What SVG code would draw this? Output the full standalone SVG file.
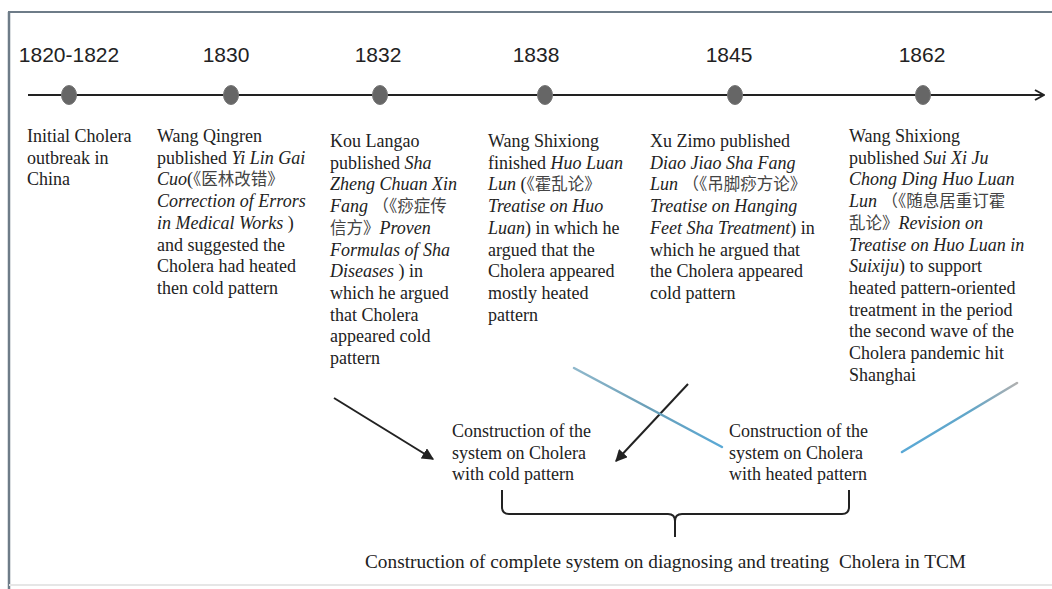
<svg xmlns="http://www.w3.org/2000/svg" width="1052" height="589" viewBox="0 0 1052 589">
<defs>
<style>
.t{font-family:"Liberation Serif","Noto Sans CJK SC",serif;font-size:18px;fill:#222}
.i{font-style:italic}
.c{font-family:"Noto Sans CJK SC",sans-serif;font-size:16.5px;fill:#444}
.yr{font-family:"Liberation Sans",sans-serif;font-size:21px;fill:#222;text-anchor:middle}
.dot{fill:#666;stroke:#777;stroke-width:1}
.ln{stroke:#222;stroke-width:2;fill:none}
.bl{stroke-width:2.5;fill:none;stroke-linecap:round}
</style>
<marker id="open" viewBox="0 0 12 12" refX="11" refY="6" markerWidth="12" markerHeight="12" markerUnits="userSpaceOnUse" orient="auto">
<path d="M2,1 L11,6 L2,11" fill="none" stroke="#222" stroke-width="2"/>
</marker>
<marker id="tri" viewBox="0 0 10 10" refX="9" refY="5" markerWidth="12" markerHeight="12" markerUnits="userSpaceOnUse" orient="auto">
<path d="M0,0 L10,5 L0,10 Z" fill="#222"/>
</marker>
<linearGradient id="g1" gradientUnits="userSpaceOnUse" x1="574" y1="368" x2="722" y2="447">
<stop offset="0" stop-color="#8fb8cc"/><stop offset="0.5" stop-color="#6a9fb8"/><stop offset="1" stop-color="#5aa9d6"/>
</linearGradient>
<linearGradient id="g2" gradientUnits="userSpaceOnUse" x1="902" y1="452" x2="1017" y2="383">
<stop offset="0" stop-color="#5aa9d6"/><stop offset="0.6" stop-color="#62a6c8"/><stop offset="1" stop-color="#b0b0b0"/>
</linearGradient>
</defs>
<rect x="0" y="0" width="1052" height="589" fill="#fff"/>
<g id="frame">
<line x1="8" y1="12" x2="1052" y2="12" stroke="#6e7c88" stroke-width="2"/>
<line x1="9" y1="12" x2="9" y2="589" stroke="#6e7c88" stroke-width="2.5"/>
<line x1="9" y1="585" x2="1052" y2="585" stroke="#e6e6e6" stroke-width="2"/>
</g>
<g id="connectors">
<line class="ln" x1="28" y1="95" x2="1044" y2="95" marker-end="url(#open)"/>
<line class="ln" x1="334" y1="398" x2="433" y2="459" marker-end="url(#tri)"/>
<line class="ln" x1="688" y1="384" x2="616" y2="461" marker-end="url(#tri)"/>
<line class="bl" x1="574" y1="368" x2="722" y2="447" stroke="url(#g1)"/>
<line class="bl" x1="902" y1="452" x2="1017" y2="383" stroke="url(#g2)"/>
<path class="ln" d="M502,490 L502,507 Q502,514 509,514 L668,514 Q675,514 675,521 L675,537 M849,490 L849,507 Q849,514 842,514 L682,514 Q675,514 675,521"/>
</g>
<g id="e1820">
<text class="yr" x="69" y="62">1820-1822</text>
<ellipse class="dot" cx="69" cy="95" rx="7.5" ry="9.5"/>
<text class="t" x="27" y="142">Initial Cholera<tspan x="27" dy="21.7">outbreak in</tspan><tspan x="27" dy="21.7">China</tspan></text>
</g>
<g id="e1830">
<text class="yr" x="226" y="62">1830</text>
<ellipse class="dot" cx="231" cy="95" rx="7.5" ry="9.5"/>
<text class="t" x="157" y="142">Wang Qingren<tspan x="157" dy="21.7">published <tspan class="i">Yi Lin Gai</tspan></tspan><tspan x="157" dy="21.7"><tspan class="i">Cuo</tspan>(<tspan class="c">《医林改错》</tspan></tspan><tspan x="157" dy="21.7" class="i">Correction of Errors</tspan><tspan x="157" dy="21.7"><tspan class="i">in Medical Works</tspan> )</tspan><tspan x="157" dy="21.7">and suggested the</tspan><tspan x="157" dy="21.7">Cholera had heated</tspan><tspan x="157" dy="21.7">then cold pattern</tspan></text>
</g>
<g id="e1832">
<text class="yr" x="378" y="62">1832</text>
<ellipse class="dot" cx="380" cy="95" rx="7.5" ry="9.5"/>
<text class="t" x="330" y="147">Kou Langao<tspan x="330" dy="21.7">published <tspan class="i">Sha</tspan></tspan><tspan x="330" dy="21.7" class="i">Zheng Chuan Xin</tspan><tspan x="330" dy="21.7"><tspan class="i">Fang</tspan> <tspan class="c">（《痧症传</tspan></tspan><tspan x="330" dy="21.7"><tspan class="c">信方》</tspan><tspan class="i">Proven</tspan></tspan><tspan x="330" dy="21.7" class="i">Formulas of Sha</tspan><tspan x="330" dy="21.7"><tspan class="i">Diseases</tspan> ) in</tspan><tspan x="330" dy="21.7">which he argued</tspan><tspan x="330" dy="21.7">that Cholera</tspan><tspan x="330" dy="21.7">appeared cold</tspan><tspan x="330" dy="21.7">pattern</tspan></text>
</g>
<g id="e1838">
<text class="yr" x="536" y="62">1838</text>
<ellipse class="dot" cx="545" cy="95" rx="7.5" ry="9.5"/>
<text class="t" x="488" y="147">Wang Shixiong<tspan x="488" dy="21.7">finished <tspan class="i">Huo Luan</tspan></tspan><tspan x="488" dy="21.7"><tspan class="i">Lun</tspan> (<tspan class="c">《霍乱论》</tspan></tspan><tspan x="488" dy="21.7" class="i">Treatise on Huo</tspan><tspan x="488" dy="21.7"><tspan class="i">Luan</tspan>) in which he</tspan><tspan x="488" dy="21.7">argued that the</tspan><tspan x="488" dy="21.7">Cholera appeared</tspan><tspan x="488" dy="21.7">mostly heated</tspan><tspan x="488" dy="21.7">pattern</tspan></text>
</g>
<g id="e1845">
<text class="yr" x="729" y="62">1845</text>
<ellipse class="dot" cx="735" cy="95" rx="7.5" ry="9.5"/>
<text class="t" x="650" y="147">Xu Zimo published<tspan x="650" dy="21.7" class="i">Diao Jiao Sha Fang</tspan><tspan x="650" dy="21.7"><tspan class="i">Lun</tspan> <tspan class="c">（《吊脚痧方论》</tspan></tspan><tspan x="650" dy="21.7" class="i">Treatise on Hanging</tspan><tspan x="650" dy="21.7"><tspan class="i">Feet Sha Treatment</tspan>) in</tspan><tspan x="650" dy="21.7">which he argued that</tspan><tspan x="650" dy="21.7">the Cholera appeared</tspan><tspan x="650" dy="21.7">cold pattern</tspan></text>
</g>
<g id="e1862">
<text class="yr" x="922" y="62">1862</text>
<ellipse class="dot" cx="923" cy="95" rx="7.5" ry="9.5"/>
<text class="t" x="849" y="142">Wang Shixiong<tspan x="849" dy="21.7">published <tspan class="i">Sui Xi Ju</tspan></tspan><tspan x="849" dy="21.7" class="i">Chong Ding Huo Luan</tspan><tspan x="849" dy="21.7"><tspan class="i">Lun</tspan> <tspan class="c">（《随息居重订霍</tspan></tspan><tspan x="849" dy="21.7"><tspan class="c">乱论》</tspan><tspan class="i">Revision on</tspan></tspan><tspan x="849" dy="21.7" class="i">Treatise on Huo Luan in</tspan><tspan x="849" dy="21.7"><tspan class="i">Suixiju</tspan>) to support</tspan><tspan x="849" dy="21.7">heated pattern-oriented</tspan><tspan x="849" dy="21.7">treatment in the period</tspan><tspan x="849" dy="21.7">the second wave of the</tspan><tspan x="849" dy="21.7">Cholera pandemic hit</tspan><tspan x="849" dy="21.7">Shanghai</tspan></text>
</g>
<g id="cold">
<text class="t" x="452" y="437">Construction of the<tspan x="452" dy="21.7">system on Cholera</tspan><tspan x="452" dy="21.7">with cold pattern</tspan></text>
</g>
<g id="heated">
<text class="t" x="729" y="437">Construction of the<tspan x="729" dy="21.7">system on Cholera</tspan><tspan x="729" dy="21.7">with heated pattern</tspan></text>
</g>
<g id="complete">
<text class="t" x="365" y="568" xml:space="preserve" textLength="601" lengthAdjust="spacingAndGlyphs">Construction of complete system on diagnosing and treating  Cholera in TCM</text>
</g>
</svg>
